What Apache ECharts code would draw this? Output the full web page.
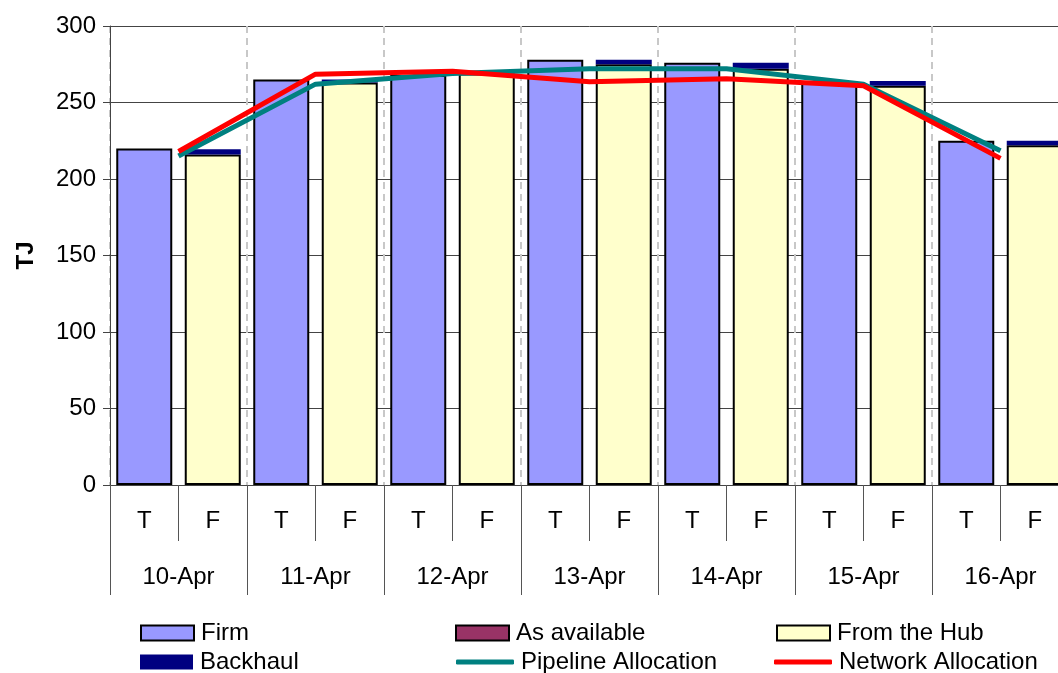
<!DOCTYPE html>
<html>
<head>
<meta charset="utf-8">
<script src="https://cdn.jsdelivr.net/npm/echarts@6/dist/echarts.min.js"></script>
<style>
html,body{margin:0;padding:0;background:#fff;overflow:hidden;width:1058px;height:673px;}
#chart{width:1072px;height:673px;}
</style>
</head>
<body>
<div id="chart"></div>
<script>
const days = ['10-Apr','11-Apr','12-Apr','13-Apr','14-Apr','15-Apr','16-Apr'];
const subCats = ['T','F'];
const firm = [220, 265, 268, 278, 276, 264, 225];          // T bars
const asAvailable = [0, 0, 0, 0, 0, 0, 0];
const fromHub = [216, 263, 269, 275, 272, 261, 222];        // F bars
const backhaul = [3.5, 2, 1, 3, 4, 3, 3];                   // on F bars
const pipeline = [215, 262, 269, 272, 272, 262, 218.5];
const network = [218, 268.5, 270.5, 263.5, 265.5, 261, 213.5];
const yTicks = {min: 0, max: 300, interval: 50};

const cats = [];
days.forEach(() => subCats.forEach(s => cats.push(s)));
const firmData = [], hubData = [], bhData = [], avData = [];
days.forEach((d, i) => {
  firmData.push(firm[i], null);
  avData.push(null, asAvailable[i] || null);
  hubData.push(null, fromHub[i]);
  bhData.push(null, backhaul[i]);
});

const FONT = 'Arial, "Liberation Sans", sans-serif';
const chart = echarts.init(document.getElementById('chart'), null, {renderer: 'canvas'});

function leg(name, left, top, isLine) {
  return {
    data: [name], left: left, top: top, orient: 'horizontal',
    itemWidth: isLine ? 58 : 53, itemHeight: isLine ? 5 : 15,
    icon: isLine ? 'roundRect' : 'rect',
    itemGap: 0, padding: 0,
    textStyle: {fontFamily: FONT, fontSize: 24, color: '#000', padding: [0, 0, 0, 2]},
    selectedMode: false
  };
}

chart.setOption({
  animation: false,
  backgroundColor: '#fff',
  grid: {left: 110, top: 26, width: 959, bottom: 188, containLabel: false},
  legend: [
    leg('Firm', 140, 621, false),
    leg('As available', 455, 621, false),
    leg('From the Hub', 776, 621, false),
    leg('Backhaul', 140, 650, false),
    leg('Pipeline Allocation', 456, 650, true),
    leg('Network Allocation', 774, 650, true)
  ],
  xAxis: [
    {
      type: 'category', data: cats, position: 'bottom',
      axisLine: {show: true, lineStyle: {color: '#444', width: 1}},
      axisTick: {show: true, interval: 0, length: 56, lineStyle: {color: '#555'}},
      axisLabel: {interval: 0, margin: 24, fontFamily: FONT, fontSize: 24, color: '#000'},
      splitLine: {show: false}
    },
    {
      type: 'category', data: days, position: 'bottom',
      axisLine: {show: false},
      axisTick: {show: true, interval: 0, length: 110, lineStyle: {color: '#555'}},
      axisLabel: {interval: 0, margin: 80, fontFamily: FONT, fontSize: 24, color: '#000'},
      splitLine: {show: true, interval: 0, lineStyle: {color: '#c8c8c8', type: [7, 5], width: 2}}
    }
  ],
  yAxis: {
    type: 'value', min: yTicks.min, max: yTicks.max, interval: yTicks.interval,
    name: 'TJ', nameLocation: 'middle', nameGap: 72, nameRotate: 90,
    nameTextStyle: {fontFamily: FONT, fontSize: 24, fontWeight: 'bold', color: '#000'},
    axisLine: {show: true, lineStyle: {color: '#444', width: 1}},
    axisTick: {show: true, length: 7, lineStyle: {color: '#444'}},
    axisLabel: {margin: 14, fontFamily: FONT, fontSize: 24, color: '#000'},
    splitLine: {show: true, lineStyle: {color: '#444', width: 1}}
  },
  series: [
    {name: 'Firm', type: 'bar', stack: 's', data: firmData, barWidth: 56,
     itemStyle: {color: '#9999FF', borderColor: '#000', borderWidth: 2}},
    {name: 'As available', type: 'bar', stack: 's', data: avData, barWidth: 56,
     itemStyle: {color: '#993366', borderColor: '#000', borderWidth: 2}},
    {name: 'From the Hub', type: 'bar', stack: 's', data: hubData, barWidth: 56,
     itemStyle: {color: '#FFFFCC', borderColor: '#000', borderWidth: 2}},
    {name: 'Backhaul', type: 'bar', stack: 's', data: bhData, barWidth: 56,
     itemStyle: {color: '#000080', borderWidth: 0}},
    {name: 'Pipeline Allocation', type: 'line', xAxisIndex: 1, data: pipeline,
     symbol: 'none', lineStyle: {color: '#008080', width: 5}, itemStyle: {color: '#008080'}, z: 5},
    {name: 'Network Allocation', type: 'line', xAxisIndex: 1, data: network,
     symbol: 'none', lineStyle: {color: '#FF0000', width: 5}, itemStyle: {color: '#FF0000'}, z: 6}
  ]
});
</script>
</body>
</html>
